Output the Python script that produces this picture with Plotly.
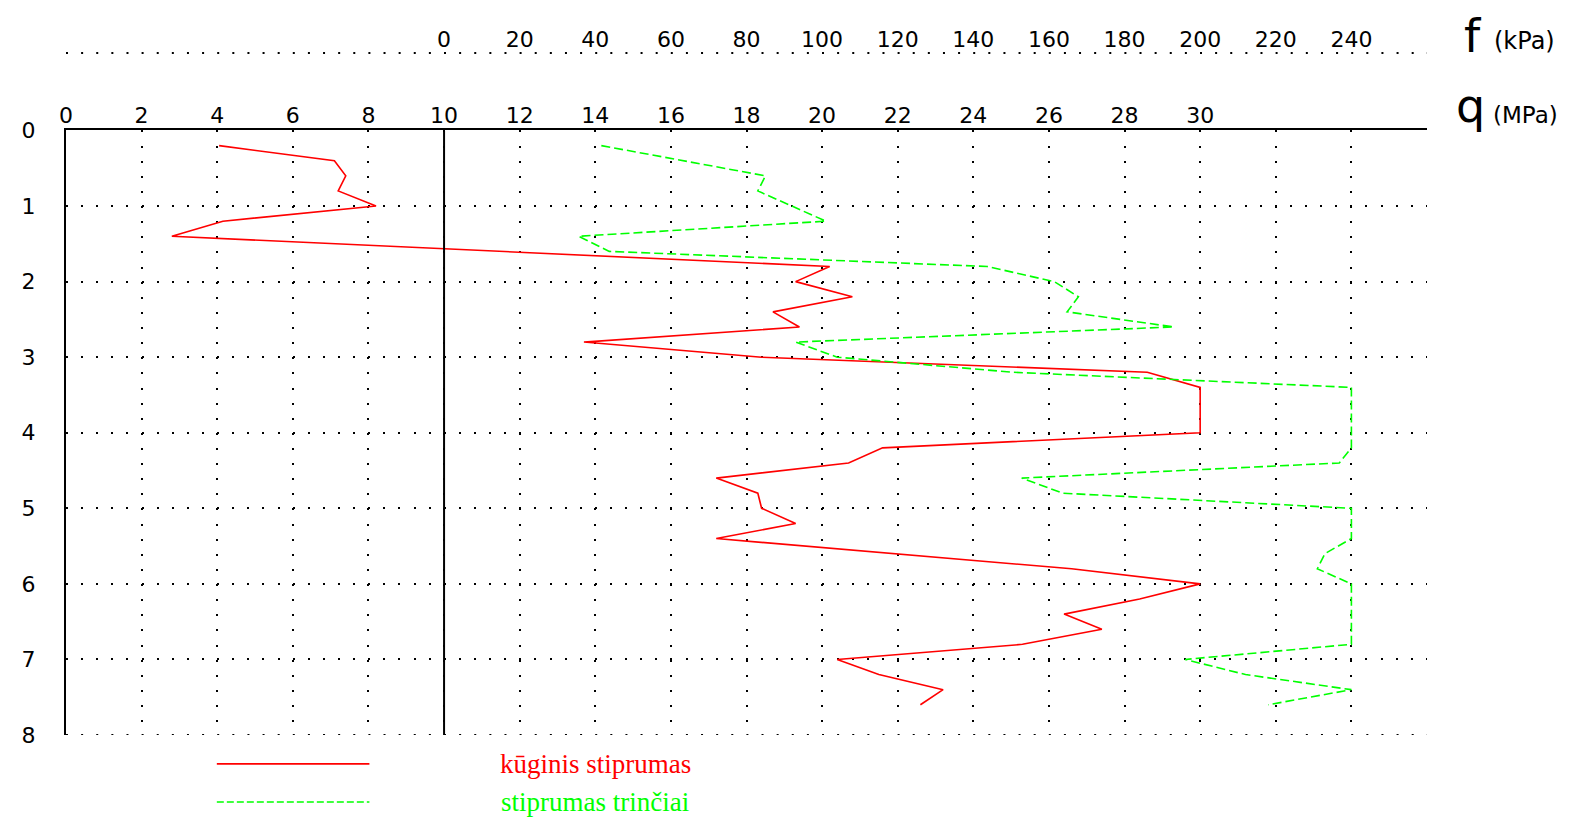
import plotly.graph_objects as go

# ---- data ----
depth_m = [0.2, 0.4, 0.6, 0.8, 1.0, 1.2, 1.4, 1.6, 1.8, 2.0, 2.2, 2.4, 2.6, 2.8, 3.0,
           3.2, 3.4, 3.6, 3.8, 4.0, 4.2, 4.4, 4.6, 4.8, 5.0, 5.2, 5.4, 5.6, 5.8, 6.0,
           6.2, 6.4, 6.6, 6.8, 7.0, 7.2, 7.4, 7.6]
q_mpa = [4.05, 7.1, 7.4, 7.2, 8.2, 4.15, 2.8, 11.5, 20.2, 19.3, 20.8, 18.7, 19.4, 13.7, 18.4,
         28.6, 30.0, 30.0, 30.0, 30.0, 21.6, 20.7, 17.2, 18.3, 18.4, 19.3, 17.2, 21.9, 26.6, 30.0,
         28.4, 26.4, 27.4, 25.3, 20.4, 21.5, 23.2, 22.6]
f_kpa = [41.6, 63.0, 85.0, 83.0, 92.0, 101.0, 35.6, 43.7, 143.7, 161.4, 167.8, 164.8, 193.0, 93.0, 104.0,
         150.6, 240.0, 240.0, 240.0, 240.0, 240.0, 236.8, 152.8, 163.7, 240.0, 240.0, 240.0, 233.0, 231.0, 240.0,
         240.0, 240.0, 240.0, 240.0, 196.0, 212.0, 240.0, 218.0]

q_ticks = list(range(0, 35, 2))
q_ticklabels = [str(v) if v <= 30 else "" for v in q_ticks]
f_ticks = list(range(0, 241, 20))
depth_ticks = list(range(0, 9))

series_names = ["kūginis stiprumas", "stiprumas trinčiai"]

# ---- layout geometry ----
# positions measured on a 1568-wide view of the 1574-wide page
S = 1574 / 1568
OFF = 8  # default page body margin
PAGE_W, PAGE_H = 1574, 819
W, H = PAGE_W - OFF, PAGE_H - OFF


def a(v):
    return v * S


PLOT_L, PLOT_R, PLOT_T, PLOT_B = a(66), a(1422), a(53), a(732)   # page coords
AX_TOP = a(130)  # page y of depth 0 line
L, T = round(PLOT_L - OFF), round(PLOT_T - OFF)
R, B = round(PAGE_W - PLOT_R), round(PAGE_H - PLOT_B)
PW, PH = W - L - R, H - T - B
PL0, PB0 = L + OFF, OFF + T + PH  # actual page coords of plot left/bottom


def px(x):
    return (a(x) - PL0) / PW


def py(y):
    return (PB0 - a(y)) / PH


FONT = "DejaVu Sans"
RED = "#FF0000"
GREEN = "#00FF00"
step_x = 0.4 * PW / 36.0
step_y = 0.2 * (PB0 - AX_TOP) / 8.0
DOTS_X = "2px,%.2fpx" % (step_x - 2)
DOTS_Y = "2px,%.2fpx" % (step_y - 2)

fig = go.Figure()
fig.add_trace(go.Scatter(x=q_mpa, y=depth_m, mode="lines", name=series_names[0],
                         line=dict(color=RED, width=1.6), xaxis="x", yaxis="y",
                         showlegend=False))
fig.add_trace(go.Scatter(x=f_kpa, y=depth_m, mode="lines", name=series_names[1],
                         line=dict(color=GREEN, width=1.6, dash="9px,4px"),
                         xaxis="x2", yaxis="y", showlegend=False))

fig.update_layout(
    width=W, height=H,
    margin=dict(l=L, r=R, t=T, b=B, pad=0, autoexpand=False),
    paper_bgcolor="white", plot_bgcolor="white",
    font=dict(family=FONT, size=22, color="black"),
    xaxis=dict(range=[0, 36], side="top", anchor="y", automargin=False,
               tickvals=q_ticks, ticktext=q_ticklabels, ticks="",
               showline=True, linecolor="black", linewidth=2,
               showgrid=True, gridcolor="black", gridwidth=2,
               griddash=DOTS_X, zeroline=False,
               ticklabelstandoff=-3,
               tickfont=dict(family=FONT, size=22, color="black")),
    xaxis2=dict(range=[-100, 260], overlaying="x", anchor="free", position=1,
                side="top", tickvals=f_ticks, ticks="", showline=False,
                automargin=False,
                showgrid=False, zeroline=False, ticklabelstandoff=2,
                tickfont=dict(family=FONT, size=22, color="black")),
    yaxis=dict(range=[8, 0], domain=[0, (PB0 - AX_TOP) / PH], tickvals=depth_ticks,
               automargin=False,
               ticks="", showline=True, linecolor="black", linewidth=2,
               showgrid=True, gridcolor="black", gridwidth=2,
               griddash=DOTS_Y, zeroline=False,
               ticklabelstandoff=24,
               tickfont=dict(family=FONT, size=22, color="black")),
    showlegend=False,
)

shapes = [
    # vertical solid line at q = 10 (f = 0)
    dict(type="line", xref="x", yref="y", x0=10, x1=10, y0=0, y1=8,
         line=dict(color="black", width=2)),
    # dotted bottom line at depth 8
    dict(type="line", xref="paper", yref="y", x0=0, x1=1, y0=8, y1=8,
         line=dict(color="black", width=2, dash=DOTS_X)),
    # dotted f axis line
    dict(type="line", xref="paper", yref="paper", x0=0, x1=1, y0=1, y1=1,
         line=dict(color="black", width=2, dash=DOTS_X)),
    # legend samples
    dict(type="line", xref="paper", yref="paper", x0=px(216), x1=px(368),
         y0=py(761), y1=py(761), line=dict(color=RED, width=1.6)),
    dict(type="line", xref="paper", yref="paper", x0=px(216), x1=px(368),
         y0=py(799), y1=py(799), line=dict(color=GREEN, width=1.6, dash="7px,3px")),
]
fig.update_layout(shapes=shapes)

annotations = [
    dict(text="f", x=px(1467), y=py(36), xref="paper", yref="paper",
         showarrow=False, xanchor="center", yanchor="middle",
         font=dict(family=FONT, size=46, color="black")),
    dict(text="(kPa)", x=px(1486), y=py(41), xref="paper", yref="paper",
         showarrow=False, xanchor="left", yanchor="middle",
         font=dict(family=FONT, size=24, color="black")),
    dict(text="q", x=px(1465), y=py(106), xref="paper", yref="paper",
         showarrow=False, xanchor="center", yanchor="middle",
         font=dict(family=FONT, size=46, color="black")),
    dict(text="(MPa)", x=px(1485), y=py(115), xref="paper", yref="paper",
         showarrow=False, xanchor="left", yanchor="middle",
         font=dict(family=FONT, size=23, color="black")),
    dict(text=series_names[0], x=px(593), y=py(761), xref="paper", yref="paper",
         showarrow=False, xanchor="center", yanchor="middle",
         font=dict(family="Liberation Serif", size=27, color=RED)),
    dict(text=series_names[1], x=px(593), y=py(799), xref="paper", yref="paper",
         showarrow=False, xanchor="center", yanchor="middle",
         font=dict(family="Liberation Serif", size=27, color=GREEN)),
]
fig.update_layout(annotations=annotations)

fig.write_html("out.html")
